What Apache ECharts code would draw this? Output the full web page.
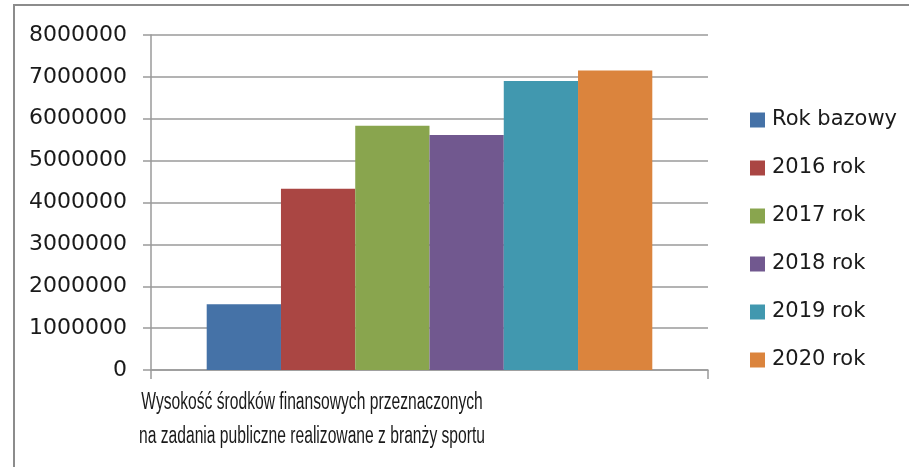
<!DOCTYPE html>
<html>
<head>
<meta charset="utf-8">
<script src="https://cdn.jsdelivr.net/npm/echarts@6/dist/echarts.min.js"></script>
<style>
html,body{margin:0;padding:0;background:#fff;}
#chart{width:909px;height:467px;}
</style>
</head>
<body>
<div id="chart"></div>
<script>
const categories = ['Wysokość środków finansowych przeznaczonych\nna zadania publiczne realizowane z branży sportu'];
const seriesNames = ['Rok bazowy', '2016 rok', '2017 rok', '2018 rok', '2019 rok', '2020 rok'];
const seriesValues = [[1570000], [4330000], [5830000], [5610000], [6900000], [7150000]];
const seriesColors = ['#4572A7', '#AA4643', '#89A54E', '#71588F', '#4198AF', '#DB843D'];
const yTicks = { min: 0, max: 8000000, interval: 1000000 };

const chart = echarts.init(document.getElementById('chart'), null, { renderer: 'canvas' });
const axisGray = '#9a9a9a';
chart.setOption({
  animation: false,
  backgroundColor: '#ffffff',
  graphic: [{
    type: 'rect', silent: true, z: 100,
    shape: { x: 14, y: 5, width: 1000, height: 1000 },
    style: { fill: 'none', stroke: '#8c8c8c', lineWidth: 2 }
  }, {
    type: 'text', silent: true,
    x: 312, y: 386, scaleX: 0.68, originX: 0,
    style: {
      text: categories[0], fontFamily: 'Liberation Sans', fontSize: 23, lineHeight: 34,
      fill: '#1a1a1a', align: 'center', verticalAlign: 'top'
    }
  }],
  grid: { left: 151, top: 35, right: 201, bottom: 97, containLabel: false },
  legend: {
    orient: 'vertical', left: 750, top: 109, padding: 0,
    itemWidth: 15, itemHeight: 15, itemGap: 26, icon: 'rect',
    textStyle: { fontFamily: 'DejaVu Sans', fontSize: 21, color: '#1a1a1a', lineHeight: 22, padding: [0, 0, 0, 2] },
    data: seriesNames
  },
  xAxis: {
    type: 'category', data: categories, boundaryGap: true,
    axisLine: { show: true, lineStyle: { color: axisGray, width: 1.5 } },
    axisTick: { show: true, length: 9, lineStyle: { color: axisGray, width: 1.5 } },
    axisLabel: { show: false }
  },
  yAxis: {
    type: 'value', min: yTicks.min, max: yTicks.max, interval: yTicks.interval,
    axisLine: { show: true, lineStyle: { color: axisGray, width: 1.5 } },
    axisTick: { show: true, length: 8, lineStyle: { color: axisGray, width: 1.5 } },
    splitLine: { show: true, lineStyle: { color: axisGray, width: 1.5 } },
    axisLabel: {
      margin: 24, fontFamily: 'DejaVu Sans', fontSize: 22, color: '#1a1a1a',
      formatter: v => String(v)
    }
  },
  series: seriesNames.map((name, i) => ({
    name: name, type: 'bar', data: seriesValues[i],
    barGap: '0%', barCategoryGap: '20%',
    itemStyle: { color: seriesColors[i] }
  }))
});
</script>
</body>
</html>
